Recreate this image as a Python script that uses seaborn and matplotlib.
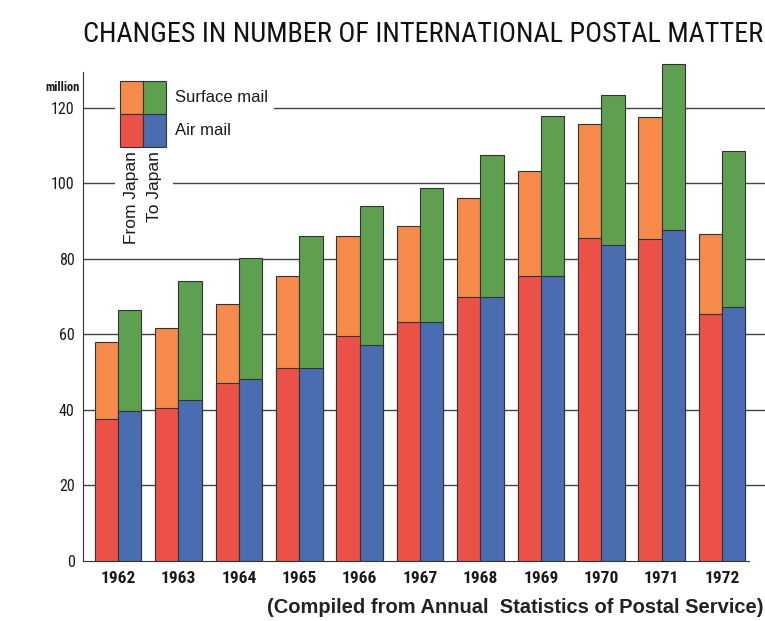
import matplotlib
matplotlib.use("Agg")
import matplotlib.pyplot as plt
import seaborn as sns
import pandas as pd
from matplotlib.patches import Rectangle

# values in million items
years = ['1962', '1963', '1964', '1965', '1966', '1967', '1968', '1969', '1970', '1971', '1972']
from_air = [37.5, 40.6, 47.1, 51.2, 59.7, 63.4, 69.8, 75.5, 85.5, 85.2, 65.4]
from_total = [57.9, 61.6, 68.0, 75.6, 86.1, 88.6, 96.1, 103.4, 115.8, 117.7, 86.5]
to_air = [39.7, 42.6, 48.2, 51.1, 57.2, 63.3, 69.8, 75.5, 83.7, 87.7, 67.4]
to_total = [66.5, 74.2, 80.2, 86.2, 94.0, 98.7, 107.5, 117.9, 123.4, 131.7, 108.7]
directions = ['From Japan', 'To Japan']
yticks = [0, 20, 40, 60, 80, 100, 120]

c_red = '#EC5148'
c_orange = '#F58A4B'
c_blue = '#4A6CB0'
c_green = '#5E9F50'

df = pd.DataFrame({
    'year': years * 2,
    'direction': [directions[0]] * len(years) + [directions[1]] * len(years),
    'air': from_air + to_air,
    'total': from_total + to_total,
})

sns.set_style('white')
plt.rcParams['font.family'] = ['Roboto Condensed', 'DejaVu Sans']
plt.rcParams['text.color'] = '#1a1a1a'
wide = ['Liberation Sans', 'DejaVu Sans']

fig = plt.figure(figsize=(7.65, 6.21), dpi=100)
ax = fig.add_axes([0.1085, 0.0966, 0.8915, 0.8148])

for v in yticks[1:]:
    ax.axhline(v, color='#444444', lw=1.0, zorder=0)

sns.barplot(data=df, x='year', y='total', hue='direction', palette=[c_orange, c_green], saturation=1,
            width=0.77, gap=0, edgecolor='#333333', linewidth=0.8, legend=False, ax=ax, zorder=2)
sns.barplot(data=df, x='year', y='air', hue='direction', palette=[c_red, c_blue], saturation=1,
            width=0.77, gap=0, edgecolor='#333333', linewidth=0.8, legend=False, ax=ax, zorder=3)

ax.set_xlim(-0.58, 10.71)
ax.set_ylim(0, 134)
ax.set_yticks(yticks)
ax.set_yticklabels([str(v) for v in yticks], fontsize=11.5, color='#1a1a1a')
ax.tick_params(axis='y', length=0, pad=6)
ax.tick_params(axis='x', length=0, pad=7)
for lab in ax.get_xticklabels():
    lab.set_fontsize(12.5)
    lab.set_fontweight('bold')
    lab.set_color('#1a1a1a')
ax.set_xlabel('')
ax.set_ylabel('')
ax.spines['top'].set_visible(False)
ax.spines['right'].set_visible(False)
ax.spines['left'].set_bounds(0, 129.5)
ax.spines['left'].set_color('#333333')
ax.spines['bottom'].set_color('#333333')
ax.spines['bottom'].set_bounds(-0.58, 10.45)

ax.text(-0.64, 125.3, 'million', fontsize=9, fontweight='bold', ha='right', va='center')

# legend box drawn by hand, in axes fraction
tr = ax.transAxes
ax.add_patch(Rectangle((0.047, 0.62), 0.085, 0.30, transform=tr, facecolor='white',
                       edgecolor='none', zorder=1))
sq_w, sq_h = 0.0335, 0.0655
x0, y0 = 0.0545, 0.818
for (dx, dy, col) in [(0, sq_h, c_orange), (sq_w, sq_h, c_green), (0, 0, c_red), (sq_w, 0, c_blue)]:
    ax.add_patch(Rectangle((x0 + dx, y0 + dy), sq_w, sq_h, transform=tr, facecolor=col,
                           edgecolor='#333333', lw=0.8, zorder=4))
ax.text(x0 + sq_w * 0.5, y0 - 0.008, 'From Japan', transform=tr, rotation=90, ha='center',
        va='top', fontsize=12.5, family=wide, zorder=5)
ax.text(x0 + sq_w * 1.5, y0 - 0.008, 'To Japan', transform=tr, rotation=90, ha='center',
        va='top', fontsize=12.5, family=wide, zorder=5)
ax.text(0.135, y0 + sq_h * 1.5, 'Surface mail', transform=tr, ha='left', va='center', fontsize=12,
        family=wide, zorder=5, bbox=dict(facecolor='white', edgecolor='none', pad=4))
ax.text(0.135, y0 + sq_h * 0.5, 'Air mail', transform=tr, ha='left', va='center', fontsize=12,
        family=wide, zorder=5, bbox=dict(facecolor='white', edgecolor='none', pad=4))

fig.text(0.998, 0.945, 'CHANGES IN NUMBER OF INTERNATIONAL POSTAL MATTER', ha='right',
         va='center', fontsize=20.3, color='#111111')
fig.text(0.998, 0.021, '(Compiled from Annual  Statistics of Postal Service)', ha='right',
         va='center', fontsize=14.5, fontweight='bold', family=wide, color='#222222')

fig.savefig('out.png', dpi=100)
